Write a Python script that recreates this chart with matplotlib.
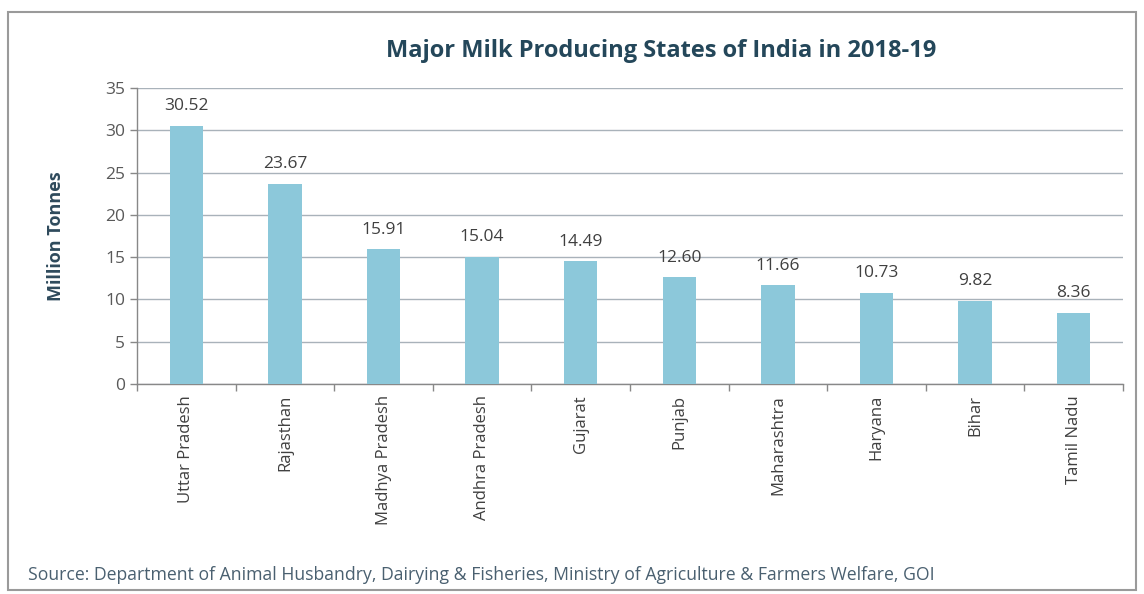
import matplotlib.pyplot as plt
import numpy as np
from matplotlib.patches import Rectangle

states = ["Uttar Pradesh", "Rajasthan", "Madhya Pradesh", "Andhra Pradesh", "Gujarat",
          "Punjab", "Maharashtra", "Haryana", "Bihar", "Tamil Nadu"]
production = [30.52, 23.67, 15.91, 15.04, 14.49, 12.60, 11.66, 10.73, 9.82, 8.36]
value_labels = ["30.52", "23.67", "15.91", "15.04", "14.49", "12.60", "11.66", "10.73", "9.82", "8.36"]

plt.rcParams['font.family'] = ['Open Sans', 'DejaVu Sans']

fig = plt.figure(figsize=(11.44, 5.94), dpi=100)
ax = fig.add_axes([137/1144, 1-384/594, 986/1144, 296/594])

x = np.arange(len(states))
ax.bar(x, production, width=0.34, color='#8cc8da', zorder=3)
for xi, v, lab in zip(x, production, value_labels):
    ax.text(xi, v + 1.4, lab, ha='center', va='bottom', fontsize=12.5, color='#404040')

ax.set_xlim(-0.5, len(states) - 0.5)
ax.set_ylim(0, 35)
ax.set_yticks(range(0, 36, 5))
ax.tick_params(axis='y', labelsize=12.5, labelcolor='#595959', color='#888888', length=5, width=1)
ax.set_xticks(x)
ax.set_xticklabels(states, rotation=90, fontsize=12, color='#404040')
ax.tick_params(axis='x', length=0, pad=8)
ax.set_xticks(np.arange(-0.5, len(states)), minor=True)
ax.tick_params(axis='x', which='minor', length=5, color='#888888', width=1)
ax.grid(axis='y', color='#a9b2ba', linewidth=1, zorder=0)

for s in ['top', 'right']:
    ax.spines[s].set_visible(False)
for s in ['left', 'bottom']:
    ax.spines[s].set_color('#888888')
    ax.spines[s].set_linewidth(1)

ax.set_ylabel("Million Tonnes", fontsize=13, fontweight='bold', color='#2e4a5c', labelpad=29)

fig.text(661/1144, 1-51/594, "Major Milk Producing States of India in 2018-19",
         ha='center', va='center', fontsize=17, fontweight='bold', color='#24475a')
fig.text(28/1144, 1-575/594,
         "Source: Department of Animal Husbandry, Dairying & Fisheries, Ministry of Agriculture & Farmers Welfare, GOI",
         ha='left', va='center', fontsize=12.7, color='#4a6070')

fig.patches.append(Rectangle((8/1144, 4/594), 1128/1144, 578/594, transform=fig.transFigure,
                             fill=False, edgecolor='#9a9a9a', linewidth=1.5))

plt.savefig('out.png', dpi=100)
